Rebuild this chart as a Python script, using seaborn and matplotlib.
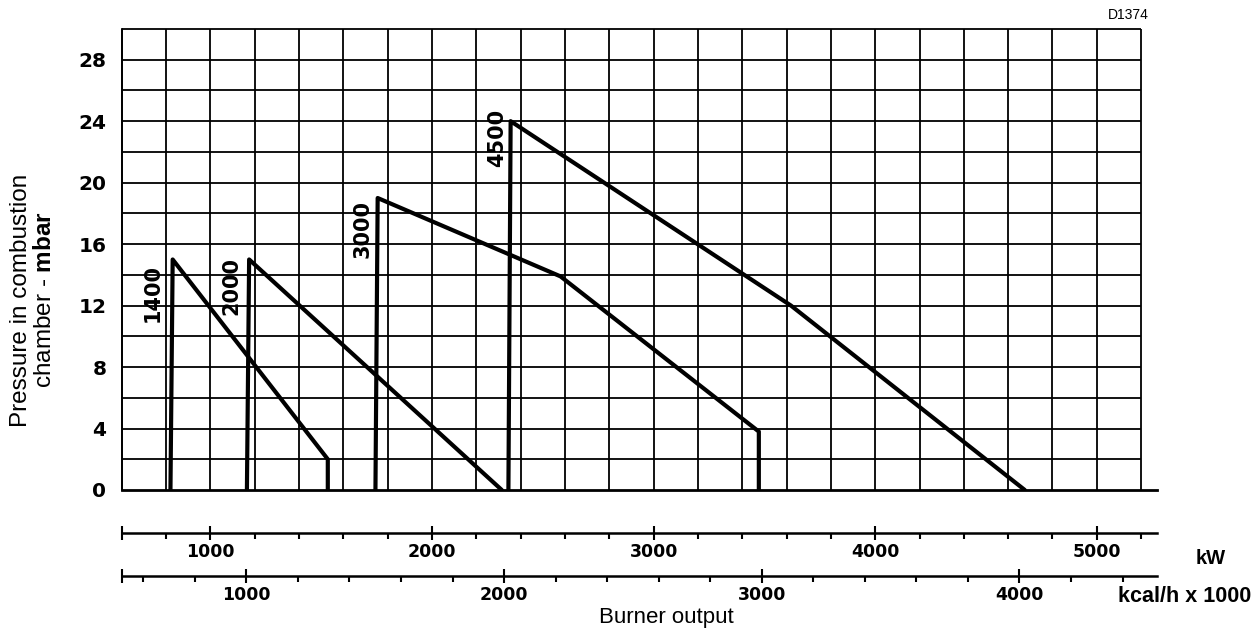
import numpy as np
import seaborn as sns
import matplotlib.pyplot as plt

# burner working ranges: output (kW) vs pressure in combustion chamber (mbar)
models = ["1400", "2000", "3000", "4500"]
kw_1400 = [820, 830, 1530, 1530]
p_1400 = [0, 15, 2, 0]
kw_2000 = [1165, 1175, 2315]
p_2000 = [0, 15, 0]
kw_3000 = [1745, 1755, 2580, 3475, 3475]
p_3000 = [0, 19, 13.9, 3.8, 0]
kw_4500 = [2345, 2355, 3620, 4675]
p_4500 = [0, 24, 12, 0]

# where each model name sits (kW, mbar)
label_kw = [741, 1093, 1689, 2294]
label_p = [12.8, 13.3, 17.0, 22.9]

y_ticks = [0, 4, 8, 12, 16, 20, 24, 28]
kw_ticks = [1000, 2000, 3000, 4000, 5000]
kcal_ticks = [1000, 2000, 3000, 4000]
KCAL_PER_KW = 0.86  # kcal/h x 1000 per kW

sns.set_style("white")
plt.rcParams['font.family'] = ['Liberation Sans', 'DejaVu Sans']
plt.rcParams['mathtext.fontset'] = 'custom'
plt.rcParams['mathtext.rm'] = 'Liberation Sans'
plt.rcParams['mathtext.bf'] = 'Liberation Sans:bold'
for key in ['text.color', 'axes.labelcolor', 'xtick.color', 'ytick.color', 'axes.edgecolor']:
    plt.rcParams[key] = 'black'

fig = plt.figure(figsize=(12.54, 6.41), dpi=100)
ax = fig.add_axes([0.09705, 0.2356, 0.8253, 0.7192])

# chart paper grid
ax.vlines(np.arange(600, 5201, 200), 0, 30, color="black", lw=1.3, clip_on=False)
ax.hlines(np.arange(2, 31, 2), 600, 5200, color="black", lw=1.3, clip_on=False)

curves = [(kw_1400, p_1400), (kw_2000, p_2000), (kw_3000, p_3000), (kw_4500, p_4500)]
for (kw, p) in curves:
    sns.lineplot(x=kw, y=p, sort=False, estimator=None, color="black", lw=3, ax=ax)

for name, x, y in zip(models, label_kw, label_p):
    ax.text(x, y, name, rotation=90, ha="center", va="center",
            fontsize=15, family="DejaVu Sans", fontweight="bold")

ax.set_xlim(600, 5270)
ax.set_ylim(0, 30)
ax.set_xticks(np.arange(600, 5201, 200))
ax.tick_params(axis="x", direction="out", length=8, width=1.5, labelbottom=False)
ax.set_yticks(y_ticks)
ax.set_yticklabels([str(v) for v in y_ticks], family="DejaVu Sans",
                   fontweight="bold", fontsize=14.5)
ax.tick_params(axis="y", direction="out", length=8, width=1.5, pad=3)
for s in ["top", "right"]:
    ax.spines[s].set_visible(False)
ax.spines["left"].set_linewidth(1.3)
ax.spines["bottom"].set_linewidth(2)

# kW scale
sec_kw = ax.secondary_xaxis(-0.0933)
sec_kw.set_xticks([600] + kw_ticks, labels=[""] + [str(v) for v in kw_ticks])
sec_kw.set_xticks(np.arange(600, 5201, 200), minor=True)
# kcal/h x 1000 scale
sec_kc = ax.secondary_xaxis(-0.1866, functions=(lambda x: x * KCAL_PER_KW,
                                                lambda x: x / KCAL_PER_KW))
sec_kc.set_xticks([600 * KCAL_PER_KW] + kcal_ticks,
                  labels=[""] + [str(v) for v in kcal_ticks])
sec_kc.set_xticks(np.arange(600, 4501, 200), minor=True)
for sec in (sec_kw, sec_kc):
    sec.spines["bottom"].set_linewidth(1.8)
    sec.tick_params(which="major", direction="inout", length=10, width=1.5, pad=2)
    sec.tick_params(which="minor", direction="out", length=4, width=1.5)
    for lab in sec.get_xticklabels():
        lab.set_family("DejaVu Sans")
        lab.set_fontweight("bold")
        lab.set_fontsize(12.5)

fig.text(1226 / 1254, 1 - 558 / 641, "kW", ha="right", va="center",
         fontsize=14.5, fontweight="bold")
fig.text(1251 / 1254, 1 - 597 / 641, "kcal/h x 1000", ha="right", va="center",
         fontsize=15.5, fontweight="bold")
fig.text(666 / 1254, 1 - 618 / 641, "Burner output", ha="center", va="center",
         fontsize=16)
fig.text(33 / 1254, 1 - 300 / 641, "Pressure in combustion\nchamber - $\\mathbf{mbar}$",
         rotation=90, ha="center", va="center", fontsize=17.5,
         multialignment="center", linespacing=1.1)
fig.text(1128 / 1254, 1 - 15 / 641, "D1374", ha="center", va="center", fontsize=10)

fig.savefig("out.png", dpi=100)
